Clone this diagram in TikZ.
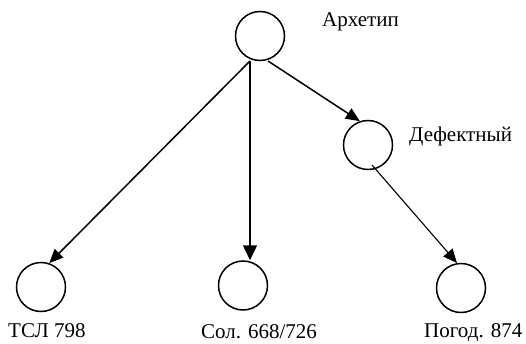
\documentclass[tikz,border=0pt]{standalone}
\usepackage{fontspec}
\setmainfont{Liberation Serif}
\usetikzlibrary{arrows.meta}
\begin{document}
\begin{tikzpicture}[x=1pt,y=1pt,
  vert/.style={draw, circle, line width=1.5pt, minimum size=49pt, inner sep=0pt},
  lbl/.style={anchor=base west, inner sep=0pt, font=\fontsize{21}{25}\selectfont},
  edge/.style={line width=1.5pt, -{Triangle[length=14pt,width=12pt]}}]
\useasboundingbox (0,0) rectangle (526,343);
\node[vert] (top) at (260,307) {};
\node[vert] (def) at (368,198) {};
\node[vert] (L) at (41,56) {};
\node[vert] (M) at (243,57.5) {};
\node[vert] (R) at (461,55) {};
\node[lbl] (tl) at (322,316) {Архетип};
\node[lbl] (dl) at (409,201) {Дефектный};
\node[lbl] (ll) at (8,6) {ТСЛ 798};
\node[lbl] (ml) at (201,5) {Сол. 668/726};
\node[lbl] (rl) at (424,6) {Погод. 874};
\coordinate (s1) at ([shift={(-10pt,-25pt)}]top.center);
\coordinate (s2) at ([shift={(8pt,-25pt)}]top.center);
\coordinate (s3) at ([shift={(4pt,-20pt)}]def.center);
\draw[edge] (s1) -- (L.71);
\draw[edge, -{Triangle[length=15pt,width=14pt]}] (s1 |- top.south) -- (s1 |- M.north);
\draw[edge] (s2) -- (def.109);
\draw[edge, line width=1.1pt] (s3) -- (R.99);
\end{tikzpicture}
\end{document}
